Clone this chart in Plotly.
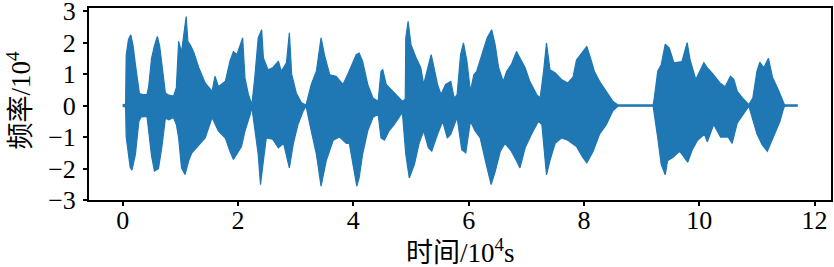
import plotly.graph_objects as go

# Waveform envelope (x in 10^4 samples, amplitude in 10^4)
upper_x = [0.00, 0.05, 0.06, 0.08, 0.10, 0.14, 0.18, 0.22, 0.26, 0.29, 0.35, 0.42, 0.45, 0.47, 0.50,
           0.55, 0.60, 0.64, 0.69, 0.74, 0.80, 0.88, 0.93, 0.97, 1.02, 1.06, 1.10, 1.13, 1.18, 1.23,
           1.32, 1.43, 1.55, 1.60, 1.66, 1.78, 1.86, 1.92, 1.98, 2.08, 2.12, 2.18, 2.24, 2.29, 2.35,
           2.41, 2.44, 2.52, 2.60, 2.70, 2.75, 2.84, 2.89, 2.93, 3.01, 3.10, 3.18, 3.27, 3.36, 3.44,
           3.50, 3.59, 3.70, 3.82, 3.90, 4.05, 4.10, 4.16, 4.25, 4.34, 4.43, 4.48, 4.51, 4.57, 4.65,
           4.74, 4.85, 4.90, 4.91, 4.95, 5.00, 5.09, 5.17, 5.22, 5.28, 5.35, 5.40, 5.46, 5.52, 5.60,
           5.69, 5.75, 5.80, 5.86, 5.91, 5.97, 6.03, 6.09, 6.14, 6.23, 6.32, 6.40, 6.46, 6.52, 6.60,
           6.66, 6.74, 6.83, 6.89, 6.98, 7.06, 7.18, 7.24, 7.30, 7.35, 7.41, 7.50, 7.61, 7.72, 7.81,
           7.87, 7.96, 8.05, 8.13, 8.18, 8.27, 8.39, 8.50, 8.59, 9.20, 9.22, 9.28, 9.34, 9.41, 9.48,
           9.56, 9.70, 9.79, 9.84, 9.94, 10.08, 10.14, 10.22, 10.36, 10.45, 10.54, 10.60, 10.66, 10.77,
           10.86, 10.93, 11.00, 11.05, 11.12, 11.20, 11.27, 11.37, 11.46, 11.48, 11.70]
upper_y = [0.02, 0.05, 1.60, 1.85, 2.10, 2.25, 1.90, 1.30, 0.70, 0.38, 0.35, 0.35, 0.60, 1.00, 1.50,
           1.90, 2.20, 1.90, 1.10, 0.40, 0.33, 0.30, 0.57, 2.04, 1.70, 2.30, 2.83, 2.04, 1.90, 1.70,
           1.20, 0.72, 0.45, 0.93, 0.60, 0.77, 1.41, 1.72, 1.62, 2.15, 0.88, 0.35, 0.03, 0.88, 2.15,
           2.41, 1.51, 1.14, 1.20, 1.41, 1.09, 1.36, 2.31, 1.00, 0.40, 0.09, 0.02, 0.67, 1.10, 2.15,
           1.60, 0.98, 0.93, 0.67, 0.98, 1.62, 1.67, 1.41, 0.67, 0.24, 0.14, 1.09, 1.14, 0.67, 0.51,
           0.35, 0.14, 0.20, 2.15, 2.68, 1.93, 1.51, 1.20, 0.67, 1.09, 1.62, 1.20, 0.67, 0.35, 0.67,
           0.77, 0.24, 0.35, 1.62, 1.99, 1.41, 0.45, 0.98, 1.09, 1.62, 2.15, 2.41, 1.93, 1.20, 0.77,
           1.09, 1.30, 1.72, 1.51, 1.20, 0.77, 0.35, 0.24, 1.09, 1.99, 1.14, 1.04, 0.83, 0.72, 0.90,
           1.45, 1.67, 1.88, 1.41, 1.09, 0.77, 0.45, 0.14, 0.02, 0.02, 0.24, 1.09, 1.30, 1.95, 1.83,
           1.36, 1.40, 2.00, 1.46, 0.83, 1.36, 1.20, 1.04, 0.72, 0.60, 0.93, 0.83, 0.45, 0.20,
           0.03, 0.25, 1.09, 1.38, 1.20, 1.50, 0.90, 0.50, 0.15, 0.02, 0.02]

lower_x = [0.00, 0.05, 0.06, 0.09, 0.13, 0.16, 0.22, 0.28, 0.32, 0.42, 0.45, 0.50, 0.55, 0.62, 0.68,
           0.74, 0.80, 0.88, 0.93, 0.97, 1.02, 1.08, 1.15, 1.20, 1.32, 1.43, 1.55, 1.66, 1.78, 1.86,
           1.92, 2.06, 2.12, 2.21, 2.24, 2.29, 2.35, 2.39, 2.44, 2.49, 2.60, 2.70, 2.79, 2.89, 2.96,
           3.04, 3.13, 3.18, 3.27, 3.36, 3.44, 3.53, 3.65, 3.76, 3.88, 3.93, 3.99, 4.06, 4.10, 4.16,
           4.25, 4.34, 4.43, 4.48, 4.54, 4.62, 4.71, 4.85, 4.91, 4.97, 5.06, 5.14, 5.22, 5.30, 5.36,
           5.46, 5.55, 5.63, 5.69, 5.80, 5.88, 5.95, 6.03, 6.11, 6.20, 6.29, 6.39, 6.46, 6.55, 6.63,
           6.74, 6.83, 6.89, 6.98, 7.09, 7.21, 7.27, 7.35, 7.41, 7.50, 7.61, 7.72, 7.87, 7.98, 8.05,
           8.16, 8.27, 8.39, 8.50, 8.59, 9.20, 9.22, 9.28, 9.34, 9.41, 9.45, 9.54, 9.66, 9.74, 9.80,
           9.88, 9.97, 10.09, 10.14, 10.25, 10.37, 10.50, 10.57, 10.66, 10.80, 10.86, 11.00, 11.09,
           11.18, 11.29, 11.40, 11.46, 11.48, 11.70]
lower_y = [-0.02, -0.05, -1.00, -1.40, -1.97, -2.05, -1.55, -0.50, -0.36, -0.34, -0.80, -1.60, -2.08, -2.00, -1.30,
           -0.40, -0.45, -0.38, -0.60, -1.03, -1.98, -2.19, -1.72, -1.50, -1.24, -1.03, -0.38, -0.81, -1.03, -1.45,
           -1.71, -1.30, -0.81, -0.29, -0.05, -0.81, -1.55, -2.51, -1.75, -1.03, -1.07, -1.34, -1.20, -1.98, -1.20,
           -0.60, -0.17, -0.02, -0.80, -1.55, -2.56, -1.75, -1.10, -1.00, -1.20, -1.20, -1.87, -2.56, -2.30, -1.55,
           -0.80, -0.38, -0.27, -1.03, -1.10, -0.80, -0.60, -0.22, -1.55, -2.30, -1.87, -1.20, -0.80, -1.34, -1.45,
           -0.91, -0.50, -1.03, -0.91, -0.38, -1.40, -1.50, -0.50, -0.80, -1.03, -1.75, -2.51, -2.10, -1.45, -1.20,
           -1.45, -1.75, -1.98, -1.34, -0.91, -0.50, -0.60, -2.20, -1.75, -1.20, -1.03, -1.10, -1.30, -1.65, -1.82,
           -1.45, -0.91, -0.60, -0.17, -0.02, -0.02, -0.27, -1.03, -1.87, -2.20, -1.75, -1.65, -1.45, -1.65, -1.80,
           -1.40, -1.10, -0.91, -1.15, -0.60, -1.00, -1.00, -1.20, -0.55, -0.17, -0.02, -0.90, -1.24,
           -1.45, -1.00, -0.50, -0.10, -0.02, -0.02]

x_ticks = [0, 2, 4, 6, 8, 10, 12]
y_ticks = [-3, -2, -1, 0, 1, 2, 3]
x_title = "时间/10<sup>4</sup>s"
y_title = "频率/10<sup>4</sup>"

color = "#1f77b4"
font_family = "Liberation Serif, Noto Sans CJK SC, serif"

fig = go.Figure()
fig.add_trace(go.Scatter(
    x=upper_x + lower_x[::-1],
    y=upper_y + lower_y[::-1],
    mode="lines",
    fill="toself",
    fillcolor=color,
    line=dict(color=color, width=1.2),
    hoverinfo="skip",
    showlegend=False,
))

axis_common = dict(
    showgrid=False, zeroline=False, automargin=False,
    showline=True, mirror=True, linecolor="black", linewidth=2,
    ticks="outside", ticklen=4, tickwidth=1.5, tickcolor="black",
    ticklabeloverflow="allow",
    tickfont=dict(family=font_family, size=26, color="black"),
)

fig.update_layout(
    width=834, height=267,
    margin=dict(l=89, r=3, t=8, b=67),
    paper_bgcolor="white", plot_bgcolor="white",
    font=dict(family=font_family, color="black"),
    xaxis=dict(range=[-0.585, 12.285], tickvals=x_ticks, ticklabelstandoff=-8, **axis_common),
    yaxis=dict(range=[-3.0, 3.1], tickvals=y_ticks, ticklabelstandoff=2, **axis_common),
    annotations=[
        dict(text=x_title, xref="paper", yref="paper", x=0.5, y=-0.265,
             xanchor="center", yanchor="middle", showarrow=False,
             font=dict(family=font_family, size=27, color="black")),
        dict(text=y_title, xref="paper", yref="paper", x=-0.094, y=0.52,
             xanchor="center", yanchor="middle", textangle=-90, showarrow=False,
             font=dict(family=font_family, size=27, color="black")),
    ],
)

fig.write_html("out.html", config={"displayModeBar": False},
               post_script="document.body.style.margin='0';")
